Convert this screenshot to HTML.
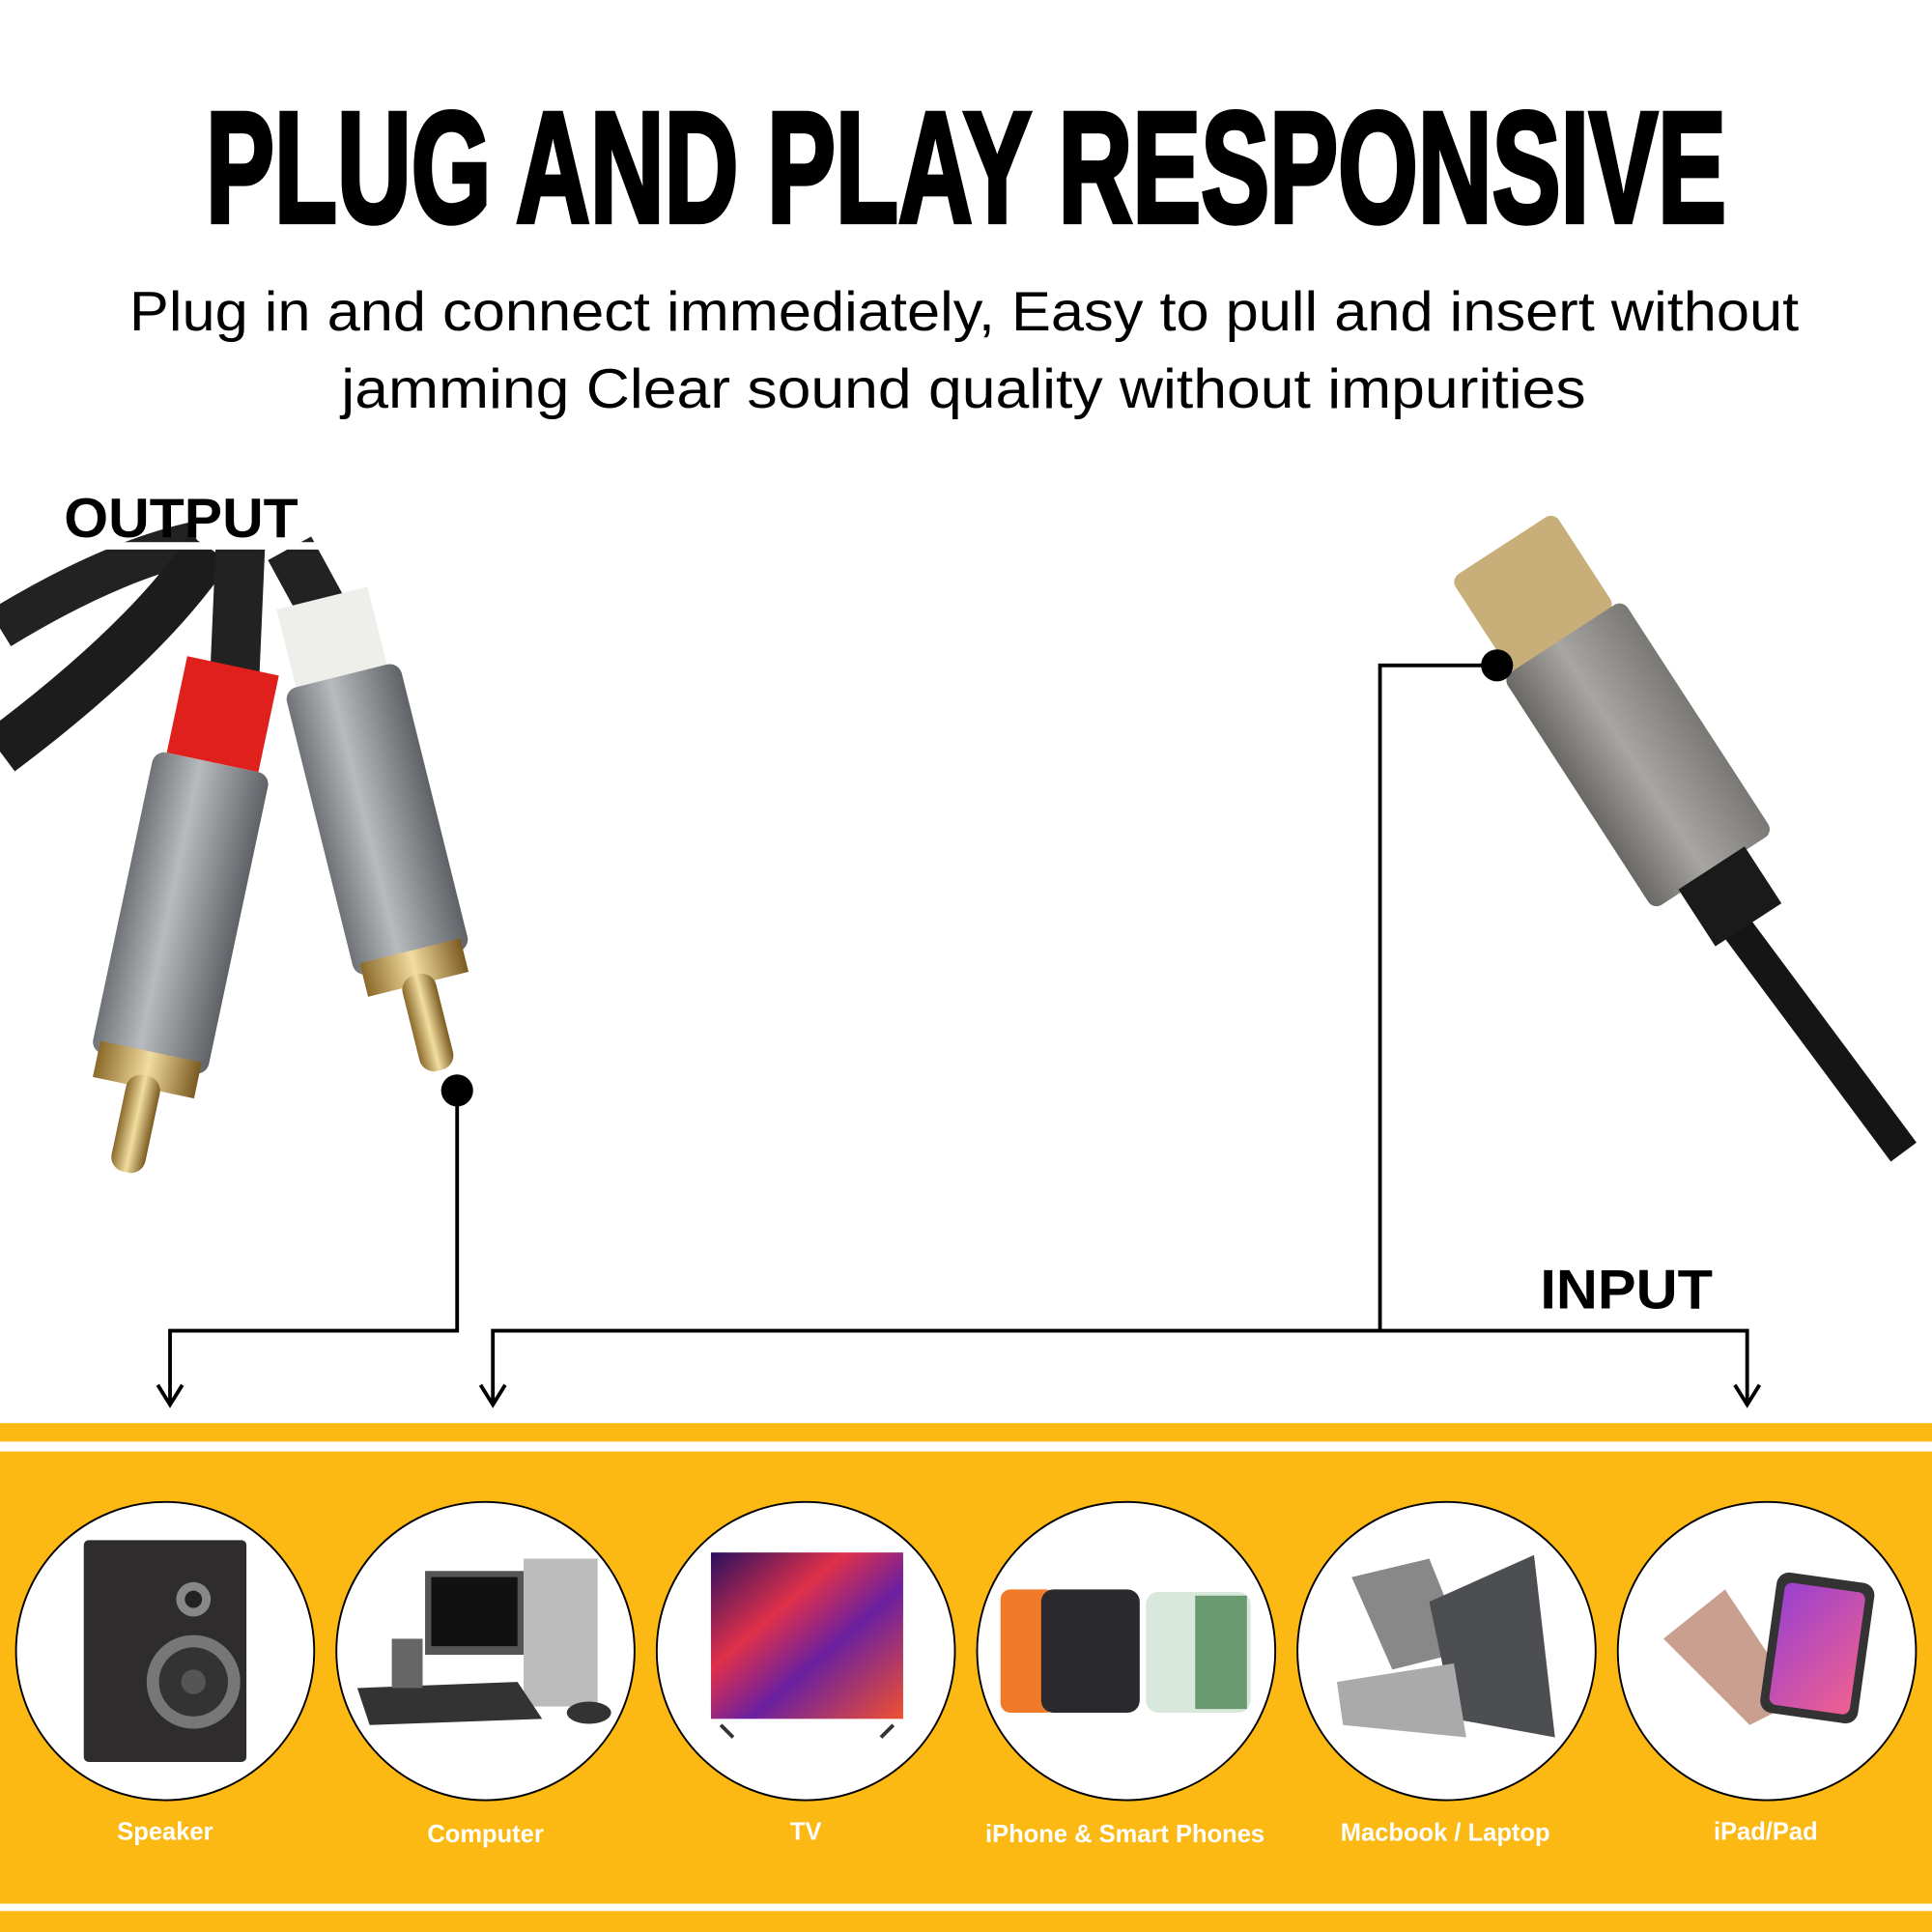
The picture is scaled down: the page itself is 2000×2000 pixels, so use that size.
<!DOCTYPE html>
<html><head><meta charset="utf-8"><style>html,body{margin:0;padding:0;background:#fff}svg{display:block}</style></head>
<body>
<svg width="2000" height="2000" viewBox="0 0 1568 1568" xmlns="http://www.w3.org/2000/svg">
<defs>
<linearGradient id="gr" x1="0" x2="1"><stop offset="0" stop-color="#6f7276"/><stop offset=".4" stop-color="#b8bbbe"/><stop offset="1" stop-color="#5e6165"/></linearGradient>
<linearGradient id="gu" x1="0" x2="1"><stop offset="0" stop-color="#6a6864"/><stop offset=".45" stop-color="#a8a6a2"/><stop offset="1" stop-color="#7a7874"/></linearGradient>
<linearGradient id="go" x1="0" x2="1"><stop offset="0" stop-color="#8a6a2a"/><stop offset=".5" stop-color="#f2dca0"/><stop offset="1" stop-color="#7a5a20"/></linearGradient>
<linearGradient id="tv" x1="0" y1="0" x2="1" y2="1"><stop offset="0" stop-color="#2a1060"/><stop offset=".35" stop-color="#e0304a"/><stop offset=".6" stop-color="#6a20a0"/><stop offset="1" stop-color="#f05030"/></linearGradient>
<linearGradient id="ip" x1="0" y1="0" x2="1" y2="1"><stop offset="0" stop-color="#9a40d0"/><stop offset="1" stop-color="#f06090"/></linearGradient>
</defs>
<rect width="1568" height="1568" fill="#fff"/>
<text x="167" y="180" font-family="Liberation Sans, sans-serif" font-weight="bold" font-size="128" stroke="#000" stroke-width="4" textLength="1234" lengthAdjust="spacingAndGlyphs">PLUG AND PLAY RESPONSIVE</text>
<text x="105" y="268" font-family="Liberation Sans, sans-serif" font-size="45" textLength="1355" lengthAdjust="spacingAndGlyphs">Plug in and connect immediately, Easy to pull and insert without</text>
<text x="277" y="331" font-family="Liberation Sans, sans-serif" font-size="45" textLength="1010" lengthAdjust="spacingAndGlyphs">jamming Clear sound quality without impurities</text>

<!-- RCA cables -->
<path d="M0 510 Q90 455 160 440" stroke="#222" stroke-width="34" fill="none"/>
<path d="M0 610 Q120 520 170 445" stroke="#1c1c1c" stroke-width="40" fill="none"/>
<path d="M195 445 L190 560" stroke="#222" stroke-width="40" fill="none"/>
<path d="M235 445 L265 500" stroke="#222" stroke-width="40" fill="none"/>
<rect x="40" y="440" width="220" height="6" fill="#fff"/>
<text x="52" y="436" font-family="Liberation Sans, sans-serif" font-weight="bold" font-size="45" textLength="190" lengthAdjust="spacingAndGlyphs">OUTPUT</text>
<text x="1250" y="1062" font-family="Liberation Sans, sans-serif" font-weight="bold" font-size="45" textLength="140" lengthAdjust="spacingAndGlyphs">INPUT</text>
<!-- left plug -->
<g transform="translate(185,560) rotate(12)">
<rect x="-38" y="-20" width="76" height="80" fill="#e0201c"/>
<rect x="-48" y="60" width="96" height="250" rx="10" fill="url(#gr)"/>
<rect x="-42" y="300" width="84" height="30" fill="url(#go)"/>
<rect x="-14" y="320" width="28" height="80" rx="12" fill="url(#go)"/>
</g>
<!-- right plug -->
<g transform="translate(265,500) rotate(-14)">
<rect x="-38" y="-15" width="76" height="70" fill="#eeeeea"/>
<rect x="-48" y="50" width="96" height="240" rx="10" fill="url(#gr)"/>
<rect x="-42" y="280" width="84" height="28" fill="url(#go)"/>
<rect x="-14" y="300" width="28" height="80" rx="12" fill="url(#go)"/>
</g>
<!-- USB-C -->
<path d="M1400 740 L1545 935" stroke="#151515" stroke-width="26" fill="none"/>
<g transform="translate(1242,478) rotate(-33)">
<rect x="-50" y="-42" width="100" height="92" rx="8" fill="#c8ae78"/>
<rect x="-58" y="48" width="116" height="225" rx="8" fill="url(#gu)"/>
<rect x="-32" y="270" width="64" height="55" fill="#1a1a1a"/>
</g>

<!-- connectors -->
<g stroke="#000" stroke-width="3" fill="none">
<path d="M371 885 V1080 H138 V1138"/>
<path d="M1215 540 H1120 V1080"/>
<path d="M400 1138 V1080 H1418 V1138"/>
<path d="M128 1124 L138 1140 L148 1124"/>
<path d="M390 1124 L400 1140 L410 1124"/>
<path d="M1408 1124 L1418 1140 L1428 1124"/>
</g>
<circle cx="371" cy="885" r="13" fill="#000"/>
<circle cx="1215" cy="540" r="13" fill="#000"/>

<!-- yellow band -->
<rect x="0" y="1155" width="1568" height="15" fill="#fdb913"/>
<rect x="0" y="1178" width="1568" height="367" fill="#fdb913"/>
<rect x="0" y="1551" width="1568" height="17" fill="#fdb913"/>

<g stroke="#000" stroke-width="1.5" fill="#fff">
<circle cx="134" cy="1340" r="121"/><circle cx="394" cy="1340" r="121"/><circle cx="654" cy="1340" r="121"/>
<circle cx="914" cy="1340" r="121"/><circle cx="1174" cy="1340" r="121"/><circle cx="1434" cy="1340" r="121"/>
</g>
<!-- speaker -->
<rect x="68" y="1250" width="132" height="180" rx="4" fill="#2e2c2c"/>
<circle cx="157" cy="1298" r="14" fill="#888"/><circle cx="157" cy="1298" r="7" fill="#222"/>
<circle cx="157" cy="1365" r="38" fill="#777"/><circle cx="157" cy="1365" r="28" fill="#333"/><circle cx="157" cy="1365" r="10" fill="#555"/>
<!-- computer -->
<rect x="345" y="1275" width="80" height="68" fill="#555"/><rect x="350" y="1280" width="70" height="56" fill="#111"/>
<rect x="425" y="1265" width="60" height="120" fill="#bbb"/>
<path d="M290 1370 L420 1365 L440 1395 L300 1400 Z" fill="#333"/>
<rect x="318" y="1330" width="25" height="40" fill="#666"/><ellipse cx="478" cy="1390" rx="18" ry="9" fill="#333"/>
<!-- TV -->
<rect x="577" y="1260" width="156" height="135" fill="url(#tv)"/>
<path d="M585 1400 L595 1410 M725 1400 L715 1410" stroke="#333" stroke-width="3"/>
<!-- phones -->
<rect x="812" y="1290" width="45" height="100" rx="8" fill="#ef7a2a"/>
<rect x="845" y="1290" width="80" height="100" rx="10" fill="#2a2a2e"/>
<rect x="930" y="1292" width="85" height="98" rx="10" fill="#d8e8dc"/><rect x="970" y="1295" width="42" height="92" fill="#6a9a70"/>
<!-- laptop -->
<path d="M1097 1280 L1160 1265 L1190 1340 L1130 1355 Z" fill="#888"/>
<path d="M1160 1300 L1245 1262 L1262 1410 L1180 1395 Z" fill="#4c4e52"/>
<path d="M1085 1365 L1180 1350 L1190 1410 L1090 1400 Z" fill="#aaa"/>
<!-- ipad -->
<path d="M1350 1330 L1400 1290 L1460 1380 L1420 1400 Z" fill="#c9a090"/>
<rect x="1435" y="1280" width="80" height="115" rx="10" fill="#333" transform="rotate(8 1475 1337)"/>
<rect x="1442" y="1288" width="66" height="100" rx="6" fill="url(#ip)" transform="rotate(8 1475 1337)"/>

<g font-family="Liberation Sans, sans-serif" font-weight="bold" font-size="20" fill="#fff" text-anchor="middle">
<text x="134" y="1493">Speaker</text><text x="394" y="1495">Computer</text><text x="654" y="1493">TV</text>
<text x="913" y="1495">iPhone &amp; Smart Phones</text><text x="1173" y="1494">Macbook / Laptop</text><text x="1433" y="1493">iPad/Pad</text>
</g>
</svg>
</body></html>
